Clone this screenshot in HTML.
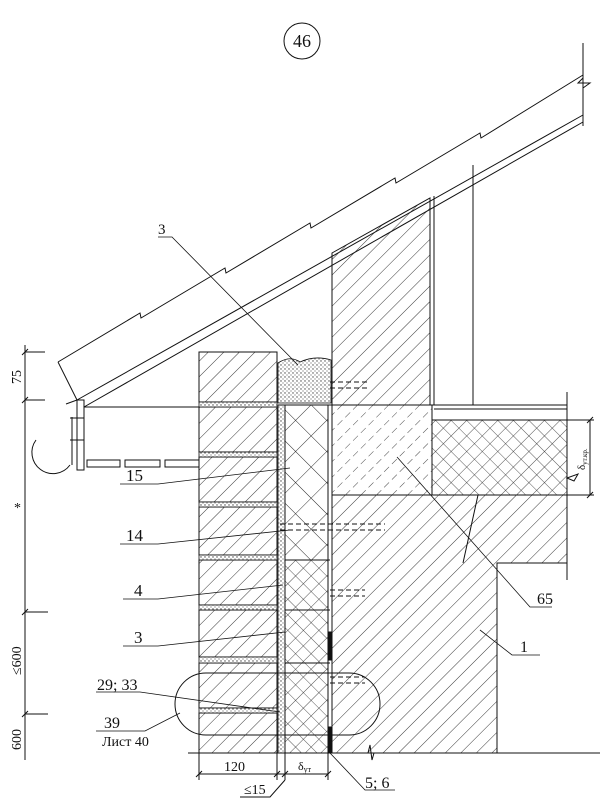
<!DOCTYPE html>
<html><head><meta charset="utf-8"><style>
html,body{margin:0;padding:0;background:#fff;}
svg{display:block;}
text{font-family:"Liberation Serif",serif;fill:#111;}
</style></head><body>
<svg width="605" height="810" viewBox="0 0 605 810" xmlns="http://www.w3.org/2000/svg">
<defs>
<pattern id="hatch" width="11" height="11" patternUnits="userSpaceOnUse" patternTransform="rotate(45)">
<line x1="0" y1="0" x2="0" y2="11" stroke="#222" stroke-width="0.9"/></pattern>
<pattern id="dhatch" width="11" height="11" patternUnits="userSpaceOnUse" patternTransform="rotate(45)">
<line x1="0" y1="0" x2="0" y2="7" stroke="#333" stroke-width="0.9"/></pattern>
<pattern id="xbig" width="22" height="22" patternUnits="userSpaceOnUse" patternTransform="rotate(45)">
<path d="M0 0V22M0 0H22" stroke="#222" stroke-width="0.9" fill="none"/></pattern>
<pattern id="xsmall" width="11" height="11" patternUnits="userSpaceOnUse" patternTransform="rotate(45)">
<path d="M0 0V11M0 0H11" stroke="#222" stroke-width="0.8" fill="none"/></pattern>
<pattern id="stip" width="4" height="4" patternUnits="userSpaceOnUse">
<rect width="4" height="4" fill="#fff"/><circle cx="1" cy="1" r="0.7" fill="#444"/><circle cx="3" cy="3" r="0.6" fill="#666"/></pattern>
</defs>
<g stroke="#111" fill="none" stroke-width="1">
<circle cx="302" cy="41" r="18"/>
<polyline points="58,362 140,313 141,318 225,268 226,273 310,223 311,228 395,178 396,183 480,133 481,138 583,75"/>
<line x1="58" y1="362" x2="77" y2="400"/>
<line x1="77" y1="400" x2="583" y2="115"/>
<line x1="84" y1="407" x2="583" y2="122"/>
<line x1="583" y1="43" x2="583" y2="126"/>
<polyline points="583,78 578,83 590,83 583,88"/>
<polygon points="332,253 430,198 430,405 332,405" fill="url(#hatch)"/>
<line x1="434" y1="196" x2="434" y2="405"/>
<line x1="473" y1="165" x2="473" y2="405"/>
<line x1="434" y1="405" x2="567" y2="405"/>
<line x1="434" y1="409" x2="567" y2="409"/>
<line x1="567" y1="392" x2="567" y2="580"/>
<rect x="432" y="420" width="135" height="75" fill="url(#xsmall)"/>
<rect x="332" y="405" width="100" height="90" fill="url(#dhatch)"/>
<polygon points="332,495 567,495 567,563 497,563 497,753 332,753" fill="url(#hatch)"/>
<polyline points="478,495 463,563"/>
<line x1="590" y1="420" x2="590" y2="495"/>
<line x1="567" y1="420" x2="594" y2="420"/><line x1="567" y1="495" x2="594" y2="495"/>
<line x1="587" y1="423" x2="593" y2="417"/><line x1="587" y1="498" x2="593" y2="492"/>
<path d="M567,478 L578,474 L574,481 Z"/>
<g fill="url(#hatch)">
<rect x="199" y="352" width="78" height="50"/>
<rect x="199" y="407" width="78" height="45"/>
<rect x="199" y="457" width="78" height="45"/>
<rect x="199" y="507" width="78" height="48"/>
<rect x="199" y="560" width="78" height="45"/>
<rect x="199" y="610" width="78" height="47"/>
<rect x="199" y="663" width="78" height="45"/>
<rect x="199" y="713" width="78" height="40"/>
</g>
<g fill="url(#stip)" stroke-width="0.8">
<rect x="199" y="402" width="78" height="5"/><rect x="199" y="452" width="78" height="5"/>
<rect x="199" y="502" width="78" height="5"/><rect x="199" y="555" width="78" height="5"/>
<rect x="199" y="605" width="78" height="5"/><rect x="199" y="657" width="78" height="6"/>
<rect x="199" y="708" width="78" height="5"/>
<rect x="278" y="405" width="7" height="348"/>
<path d="M278,403 L278,363 Q290,355 300,362 Q315,355 331,360 L331,403 Z"/>
</g>
<rect x="285" y="405" width="43" height="155" fill="url(#xbig)"/>
<rect x="285" y="560" width="43" height="193" fill="url(#xsmall)"/>
<line x1="328" y1="405" x2="328" y2="753"/>
<line x1="332" y1="253" x2="332" y2="753"/>
<line x1="278" y1="405" x2="567" y2="405"/>
<line x1="285" y1="560" x2="330" y2="560"/><line x1="285" y1="610" x2="330" y2="610"/><line x1="285" y1="663" x2="330" y2="663"/>
<rect x="328" y="632" width="4" height="28" fill="#111"/>
<rect x="328" y="727" width="4" height="26" fill="#111"/>
<g stroke-dasharray="5,3">
<path d="M330,382 H370 M330,388 H370"/><path d="M280,524 H385 M280,530 H385"/>
<path d="M330,590 H365 M330,596 H365"/><path d="M330,677 H365 M330,683 H365"/>
</g>
<line x1="188" y1="753" x2="600" y2="753"/>
<polyline points="368,753 370,745 372,760 374,753"/>
<rect x="77" y="400" width="7" height="70"/>
<line x1="84" y1="407" x2="199" y2="407"/>
<rect x="87" y="460" width="33" height="7"/><rect x="125" y="460" width="35" height="7"/><rect x="165" y="460" width="34" height="7"/>
<path d="M66,404 L77,400"/>
<path d="M72,417 V465 M70,418 H84 M70,440 H84"/>
<path d="M36,440 A17,17 0 0 0 70,465"/>
<rect x="175" y="673" width="205" height="62" rx="31"/>
<line x1="25" y1="345" x2="25" y2="760"/>
<path d="M25,352 H45 M25,400 H45 M25,612 H48 M25,714 H48 M22,355 L28,349 M22,403 L28,397 M22,615 L28,609 M22,717 L28,711"/>
<path d="M199,753 V780 M277,753 V780 M285,753 V780 M328,753 V780 M199,774 H328 M196,777 L202,771 M274,777 L280,771 M282,777 L288,771 M325,777 L331,771"/>
<path d="M285,780 L270,797 H240"/>
<g stroke-width="0.8">
<path d="M158,237 H172 L298,365"/>
<path d="M120,484 H158 L290,468"/>
<path d="M120,544 H158 L290,530"/>
<path d="M123,599 H158 L283,585"/>
<path d="M123,646 H158 L285,632"/>
<path d="M96,692 H140 L280,712"/>
<path d="M96,731 H145 L180,713"/>
<path d="M330,753 L365,790 H395"/>
<path d="M397,457 L530,607 H552"/>
<path d="M480,630 L512,655 H540"/>
</g>
</g>
<g font-size="17">
<text x="302" y="47" text-anchor="middle" font-size="18">46</text>
<text x="158" y="234" font-size="15">3</text>
<text x="126" y="481">15</text>
<text x="126" y="541">14</text>
<text x="134" y="596">4</text>
<text x="134" y="643">3</text>
<text x="97" y="690" font-size="16">29; 33</text>
<text x="104" y="728" font-size="16">39</text>
<text x="102" y="746" font-size="14">Лист 40</text>
<text x="537" y="604" font-size="16">65</text>
<text x="520" y="652" font-size="16">1</text>
<text x="365" y="788" font-size="16">5; 6</text>
<text x="224" y="771" font-size="14">120</text>
<text x="244" y="794" font-size="14">≤15</text>
<text x="298" y="770" font-size="12">δ<tspan font-size="8" dy="2">ут</tspan></text>
<text transform="translate(585,470) rotate(-90)" font-size="11">δ<tspan font-size="7" dy="2">ут.кр.</tspan></text>
<text transform="translate(21,384) rotate(-90)" font-size="14">75</text>
<text x="14" y="512" font-size="14">*</text>
<text transform="translate(21,675) rotate(-90)" font-size="14">≤600</text>
<text transform="translate(21,750) rotate(-90)" font-size="14">600</text>
</g>
</svg>
</body></html>
